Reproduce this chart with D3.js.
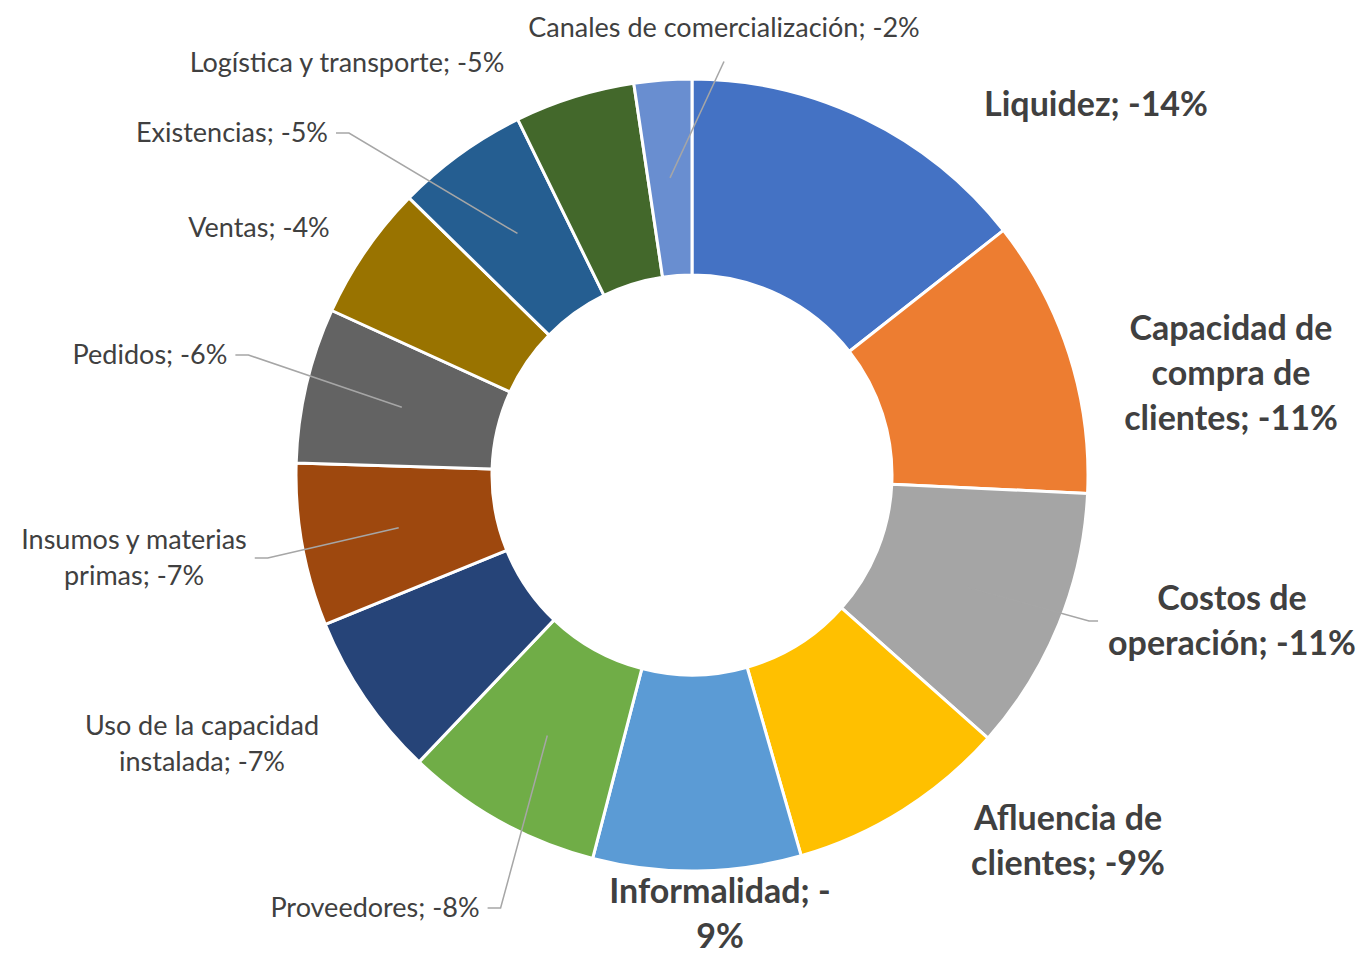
<!DOCTYPE html>
<meta charset="utf-8">

<style>

body {
  margin: 0;
  background: #fff;
}

.label {
  fill: #404040;
  font-family: Lato, "Noto Sans", sans-serif;
  font-size: 27px;
}

.label.big {
  font-size: 34px;
  font-weight: bold;
}

.leader {
  fill: none;
  stroke: #a6a6a6;
  stroke-width: 1.5px;
}

</style>

<body>

<svg id="chart" width="1371" height="958"></svg>

<script src="https://cdn.jsdelivr.net/npm/d3@7/dist/d3.min.js"></script>
<script>

const categories = [
  "Liquidez",
  "Capacidad de compra de clientes",
  "Costos de operación",
  "Afluencia de clientes",
  "Informalidad",
  "Proveedores",
  "Uso de la capacidad instalada",
  "Insumos y materias primas",
  "Pedidos",
  "Ventas",
  "Existencias",
  "Logística y transporte",
  "Canales de comercialización"
]

// slice sizes (%)
const values = [-14.1, -11.1, -10.6, -8.8, -8.3, -7.9, -6.6, -6.5, -6.2, -5.4, -5.3, -4.8, -2.3]

// the percentages printed in the labels
const shownPct = [-14, -11, -11, -9, -9, -8, -7, -7, -6, -4, -5, -5, -2]

const colors = [
  "#4472c4", "#ed7d31", "#a5a5a5", "#ffc000", "#5b9bd5", "#70ad47", "#264478",
  "#9e480e", "#636363", "#997300", "#255e91", "#43682b", "#698ed0"
]

// label layout: centre of each label relative to the pie centre, wrap width, leader side
const labelAt = [
  [404, -371], [539, -102], [540, 146], [376, 366], [28, 439], [-317, 433], [-490, 269],
  [-558, 83], [-542, -120], [-433, -247], [-460, -342], [-345, -412], [32, -447]
]
const labelWrap = [260, 260, 260, 260, 260, 400, 260, 260, 400, 400, 400, 400, 440]
const leaderSide = [null, null, "l", null, null, "r", null, "r", "r", null, "r", null, "b"]

const cx = 692, cy = 475
const outerR = 396, innerR = 200

const svg = d3.select("#chart")
const g = svg.append("g").attr("transform", `translate(${cx},${cy})`)

const pie = d3.pie().sort(null).value(d => Math.abs(d))
const arcs = pie(values)
const arc = d3.arc().innerRadius(innerR).outerRadius(outerR)

g.selectAll("path.slice")
  .data(arcs)
  .join("path")
    .attr("class", "slice")
    .attr("d", arc)
    .attr("fill", (d, i) => colors[i])
    .attr("stroke", "#fff")
    .attr("stroke-width", 3)
    .attr("stroke-linejoin", "round")

// split text into pieces; a break may go at a space or after a minus sign
function pieces(str) {
  const out = []
  str.split(" ").forEach((w, i) => {
    const sep = i ? " " : ""
    const m = w.match(/^-(\d.*)$/)
    if (m) {
      out.push({sep: sep, t: "-"})
      out.push({sep: "", t: m[1]})
    } else {
      out.push({sep: sep, t: w})
    }
  })
  return out
}

const leaders = g.append("g")
const labels = g.append("g")

categories.forEach((name, i) => {
  const big = Math.abs(shownPct[i]) >= 9
  const str = `${name}; ${shownPct[i]}%`
  const text = labels.append("text")
      .attr("class", big ? "label big" : "label")
      .attr("text-anchor", "middle")

  // greedy wrap, measured with the real font
  const probe = text.append("tspan")
  const lines = []
  let line = null
  pieces(str).forEach(p => {
    if (line === null) { line = p.t; return }
    probe.text(line + p.sep + p.t)
    if (probe.node().getComputedTextLength() > labelWrap[i]) {
      lines.push(line)
      line = p.t
    } else {
      line = line + p.sep + p.t
    }
  })
  lines.push(line)
  probe.remove()

  const lh = big ? 45 : 36
  const fs = big ? 34 : 27
  const [lx, ly] = labelAt[i]
  const top = ly - (lines.length - 1) * lh / 2
  lines.forEach((l, k) => {
    text.append("tspan")
        .attr("x", lx)
        .attr("y", top + k * lh + fs * 0.35)
        .text(l)
  })

  const side = leaderSide[i]
  if (side) {
    const bb = text.node().getBBox()
    const c = arc.centroid(arcs[i])
    let pts
    if (side === "r") {
      const x0 = bb.x + bb.width + 8
      pts = [[x0, ly], [x0 + 13, ly], c]
    } else if (side === "l") {
      const x0 = bb.x - 10
      pts = [[x0, ly], [x0 - 9, ly], c]
    } else {
      pts = [[lx, bb.y + bb.height + 18], c]
    }
    leaders.append("path")
        .attr("class", "leader")
        .attr("d", d3.line()(pts))
  }
})

</script>
